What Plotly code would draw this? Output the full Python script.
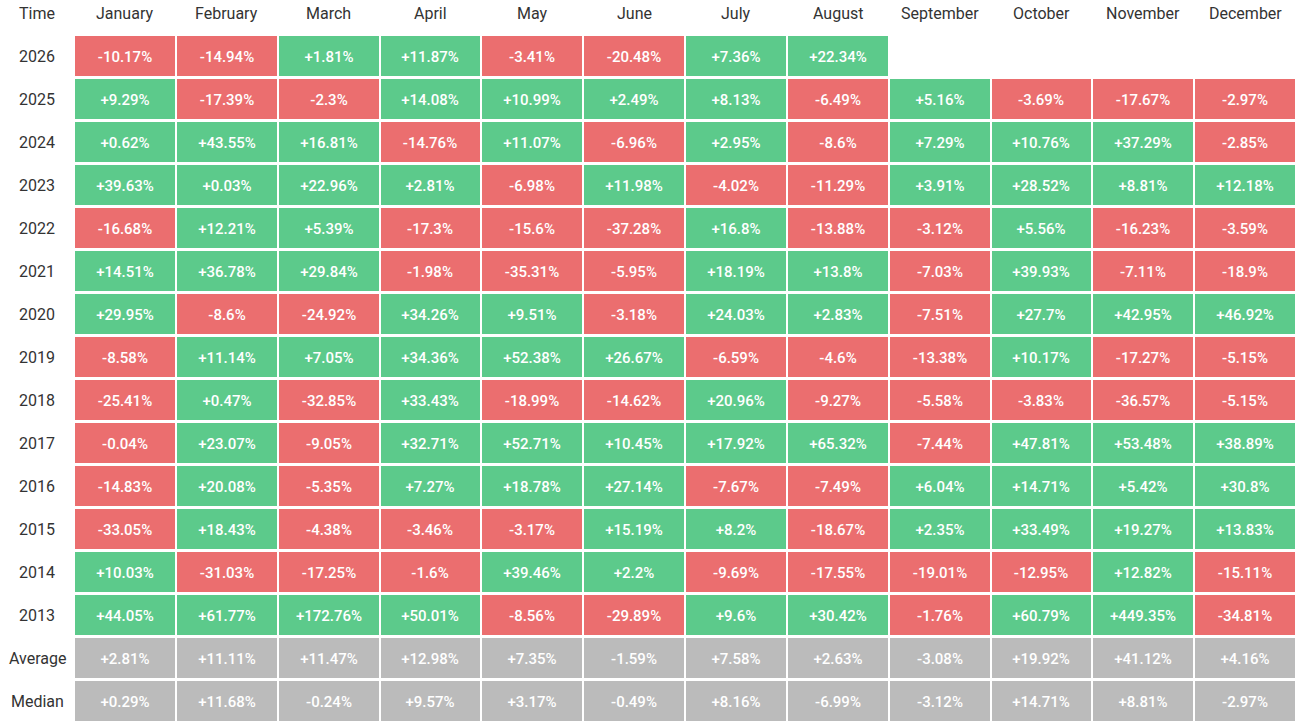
import plotly.graph_objects as go

months = ["January", "February", "March", "April", "May", "June", "July",
          "August", "September", "October", "November", "December"]
rows = ["2026", "2025", "2024", "2023", "2022", "2021", "2020", "2019", "2018",
        "2017", "2016", "2015", "2014", "2013", "Average", "Median"]

r2026 = [-10.17, -14.94, 1.81, 11.87, -3.41, -20.48, 7.36, 22.34, None, None, None, None]
r2025 = [9.29, -17.39, -2.3, 14.08, 10.99, 2.49, 8.13, -6.49, 5.16, -3.69, -17.67, -2.97]
r2024 = [0.62, 43.55, 16.81, -14.76, 11.07, -6.96, 2.95, -8.6, 7.29, 10.76, 37.29, -2.85]
r2023 = [39.63, 0.03, 22.96, 2.81, -6.98, 11.98, -4.02, -11.29, 3.91, 28.52, 8.81, 12.18]
r2022 = [-16.68, 12.21, 5.39, -17.3, -15.6, -37.28, 16.8, -13.88, -3.12, 5.56, -16.23, -3.59]
r2021 = [14.51, 36.78, 29.84, -1.98, -35.31, -5.95, 18.19, 13.8, -7.03, 39.93, -7.11, -18.9]
r2020 = [29.95, -8.6, -24.92, 34.26, 9.51, -3.18, 24.03, 2.83, -7.51, 27.7, 42.95, 46.92]
r2019 = [-8.58, 11.14, 7.05, 34.36, 52.38, 26.67, -6.59, -4.6, -13.38, 10.17, -17.27, -5.15]
r2018 = [-25.41, 0.47, -32.85, 33.43, -18.99, -14.62, 20.96, -9.27, -5.58, -3.83, -36.57, -5.15]
r2017 = [-0.04, 23.07, -9.05, 32.71, 52.71, 10.45, 17.92, 65.32, -7.44, 47.81, 53.48, 38.89]
r2016 = [-14.83, 20.08, -5.35, 7.27, 18.78, 27.14, -7.67, -7.49, 6.04, 14.71, 5.42, 30.8]
r2015 = [-33.05, 18.43, -4.38, -3.46, -3.17, 15.19, 8.2, -18.67, 2.35, 33.49, 19.27, 13.83]
r2014 = [10.03, -31.03, -17.25, -1.6, 39.46, 2.2, -9.69, -17.55, -19.01, -12.95, 12.82, -15.11]
r2013 = [44.05, 61.77, 172.76, 50.01, -8.56, -29.89, 9.6, 30.42, -1.76, 60.79, 449.35, -34.81]
average = [2.81, 11.11, 11.47, 12.98, 7.35, -1.59, 7.58, 2.63, -3.08, 19.92, 41.12, 4.16]
median = [0.29, 11.68, -0.24, 9.57, 3.17, -0.49, 8.16, -6.99, -3.12, 14.71, 8.81, -2.97]

values = [r2026, r2025, r2024, r2023, r2022, r2021, r2020, r2019, r2018,
          r2017, r2016, r2015, r2014, r2013, average, median]
summary_rows = {"Average", "Median"}

RED = "#EB6E6F"
GREEN = "#5CCA8B"
GRAY = "#BBBBBB"
LABEL = dict(size=16, color="#333333", family="Roboto")

xs = list(range(len(months)))
ys = list(range(len(rows)))

z, text = [], []
for name, row in zip(rows, values):
    zr, tr = [], []
    for v in row:
        if v is None:
            zr.append(None)
            tr.append("")
        else:
            if name in summary_rows:
                zr.append(0)
            else:
                zr.append(1 if v > 0 else -1)
            tr.append(format(v, "+g") + "%")
    z.append(zr)
    text.append(tr)

fig = go.Figure(go.Heatmap(
    x=xs, y=ys, z=z, text=text, texttemplate="%{text}",
    textfont=dict(color="white", size=15, family="Roboto", weight=500),
    colorscale=[[0, RED], [0.3333, RED], [0.3334, GRAY], [0.6666, GRAY],
                [0.6667, GREEN], [1, GREEN]],
    zmin=-1.5, zmax=1.5, showscale=False, xgap=2, ygap=3,
    hoverinfo="skip",
))

PLOT_W = 1222
LABEL_X = -37 / PLOT_W
annotations = [dict(text="Time", x=LABEL_X, xref="paper", y=1, yref="paper",
                    yshift=22, showarrow=False, xanchor="center", yanchor="middle",
                    font=LABEL)]
for i, m in zip(xs, months):
    annotations.append(dict(text=m, x=i, xref="x", y=1, yref="paper", yshift=22,
                            showarrow=False, xanchor="center", yanchor="middle",
                            font=LABEL))
for j, name in zip(ys, rows):
    annotations.append(dict(text=name, x=LABEL_X, xref="paper", y=j, yref="y",
                            showarrow=False, xanchor="center", yanchor="middle",
                            font=LABEL))

fig.update_layout(
    width=1305, height=728,
    margin=dict(l=74, r=9, t=35, b=5),
    paper_bgcolor="white", plot_bgcolor="white",
    font=dict(family="Roboto", color="#333333"),
    annotations=annotations,
)
fig.update_xaxes(range=[-0.5, len(months) - 0.5], showgrid=False, zeroline=False,
                 ticks="", showticklabels=False, fixedrange=True)
fig.update_yaxes(range=[len(rows) - 0.5, -0.5], showgrid=False, zeroline=False,
                 ticks="", showticklabels=False, fixedrange=True)

# remove the browser's default 8px body margin so the figure fills the window
fig.write_html("out.html",
               config={"displayModeBar": False},
               post_script="document.body.style.margin='0';document.body.style.overflow='hidden';")
